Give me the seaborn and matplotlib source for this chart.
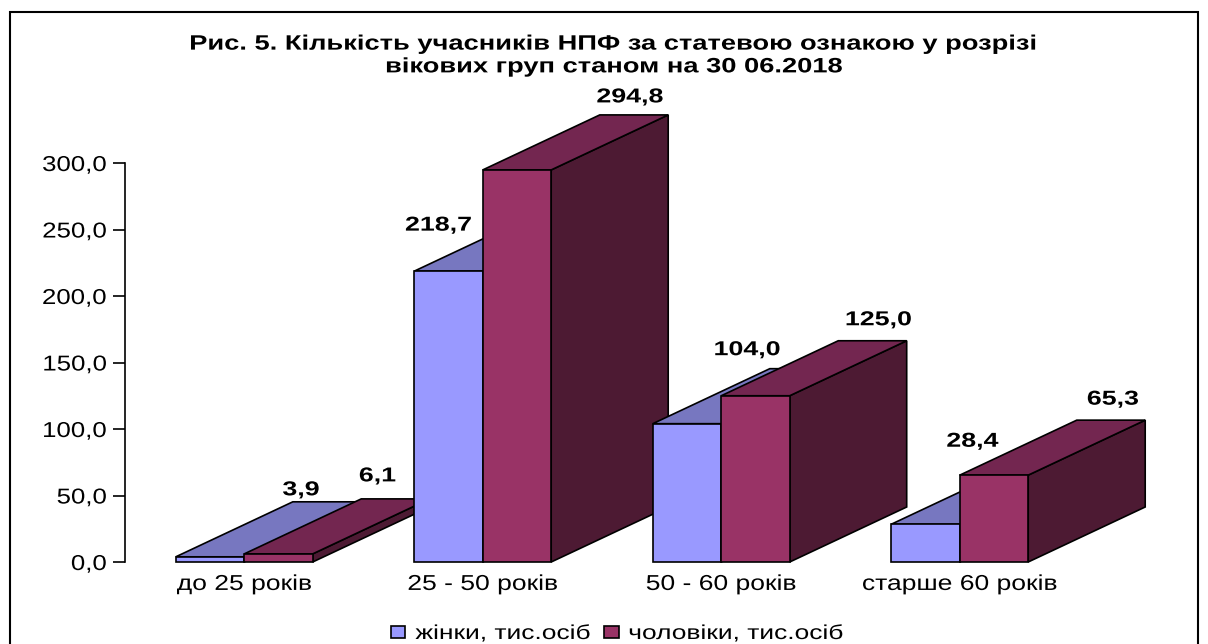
import pandas as pd
import matplotlib
matplotlib.use('Agg')
import matplotlib.pyplot as plt
import matplotlib.patheffects as pe
from matplotlib.patches import Polygon, Rectangle
from matplotlib.transforms import Affine2D
import seaborn as sns

# values
groups = ['до 25 років', '25 - 50 років', '50 - 60 років', 'старше 60 років']
women = [3.9, 218.7, 104.0, 28.4]
men = [6.1, 294.8, 125.0, 65.3]
series = ['жінки, тис.осіб', 'чоловіки, тис.осіб']
yticks = [0, 50, 100, 150, 200, 250, 300]

# hand placed data labels in the original, offset from bar top centre (px)
women_off = [(91, 67), (-10, 46), (60, 74), (47, 83)]
men_off = [(99, 78), (113, 73), (123, 76), (119, 76)]

W, H = 1208, 644
front = ['#9999FF', '#993366']
top = ['#7777C0', '#732650']
side = ['#4D4D80', '#4D1A33']


# the original text is stretched sideways, matplotlib has no font-stretch for that
class Stretch(pe.AbstractPathEffect):
    def __init__(self, sx, anchor='center'):
        super().__init__()
        self.sx = sx
        self.anchor = anchor

    def draw_path(self, renderer, gc, tpath, affine, rgbFace=None):
        ext = tpath.get_extents()
        ax_ = {'left': ext.x0, 'right': ext.x1, 'center': (ext.x0 + ext.x1) / 2}[self.anchor]
        t = Affine2D().translate(-ax_, 0).scale(self.sx, 1).translate(ax_, 0)
        renderer.draw_path(gc, tpath, t + affine, rgbFace)


df = pd.DataFrame({
    'group': groups * 2,
    'sex': [series[0]] * 4 + [series[1]] * 4,
    'value': women + men,
})

sns.set_theme(style='white')
plt.rcParams['font.family'] = ['Liberation Sans', 'DejaVu Sans']

fig = plt.figure(figsize=(W / 100, H / 100), dpi=100)
ax = fig.add_axes([125 / W, 1 - 562 / H, 954 / W, 399 / H])
sns.barplot(data=df, x='group', y='value', hue='sex', order=groups, hue_order=series,
            palette=front, width=0.574, gap=0, edgecolor='black', linewidth=1.2,
            saturation=1, errorbar=None, ax=ax, legend=False)
ax.set_xlim(-0.5, 3.5)
ax.set_ylim(0, 300)
ax.set_xlabel('')
ax.set_ylabel('')
ax.set_yticks(yticks)
ax.yaxis.set_major_formatter(plt.FuncFormatter(lambda v, p: ('%.1f' % v).replace('.', ',')))
ax.tick_params(axis='y', left=True, length=8.6, width=1.2, color='black', pad=4.5,
               labelsize=15.5, labelcolor='black')
ax.tick_params(axis='x', bottom=False, pad=2.5, labelsize=15.5, labelcolor='black')
for s in ['top', 'right', 'bottom']:
    ax.spines[s].set_visible(False)
ax.spines['left'].set_color('black')
ax.spines['left'].set_linewidth(1.2)
for lab in ax.get_yticklabels():
    lab.set_path_effects([Stretch(1.2, 'right')])
for lab in ax.get_xticklabels():
    lab.set_path_effects([Stretch(1.23)])

# depth of the fake 3d: 117 px to the right, 55 px up
dx = 117 / (954 / 4)
dy = 55 / (399 / 300)
px_x = 4 / 954
px_y = 300 / 399

vals = [women, men]
offs = [women_off, men_off]
bars = list(ax.patches)
for h in range(2):
    for g in range(4):
        b = bars[h * 4 + g]
        x0, x1 = b.get_x(), b.get_x() + b.get_width()
        y = b.get_height()
        z = 10 * g + 3 * h
        b.set_zorder(z + 2)
        b.set_clip_on(False)
        tp = Polygon([(x0, y), (x1, y), (x1 + dx, y + dy), (x0 + dx, y + dy)], closed=True,
                     facecolor=top[h], edgecolor='black', linewidth=1.2, zorder=z + 1, clip_on=False)
        sd = Polygon([(x1, 0), (x1 + dx, dy), (x1 + dx, y + dy), (x1, y)], closed=True,
                     facecolor=side[h], edgecolor='black', linewidth=1.2, zorder=z + 1, clip_on=False)
        ax.add_patch(sd)
        ax.add_patch(tp)
        ox, oy = offs[h][g]
        ax.text((x0 + x1) / 2 + ox * px_x, y + oy * px_y, ('%.1f' % vals[h][g]).replace('.', ','),
                ha='center', va='center', fontsize=14.5, fontweight='bold', color='black', zorder=100,
                path_effects=[Stretch(1.33)])

fig.text(615 / W, 1 - 55.5 / H, 'Рис. 5. Кількість учасників НПФ за статевою ознакою у розрізі\nвікових груп станом на 30 06.2018',
         ha='center', va='center', fontsize=15, fontweight='bold', color='black', linespacing=1.25,
         path_effects=[Stretch(1.31)])

# outer frame, its bottom edge is cut off in the original
fig.add_artist(Rectangle((10 / W, -0.05), 1188 / W, 1.05 - 12 / H, transform=fig.transFigure,
                         fill=False, edgecolor='black', linewidth=1.5))

handles = [Rectangle((0, 0), 1, 1, facecolor=c, edgecolor='black', linewidth=1.2) for c in front]
leg = fig.legend(handles, series, loc='center', bbox_to_anchor=(592 / W, 1 - 633.5 / H), ncol=2, frameon=False,
                 fontsize=14.5, handlelength=0.7, handleheight=0.55, handletextpad=0.5, columnspacing=2.75,
                 labelcolor='black', borderpad=0)
for t in leg.get_texts():
    t.set_path_effects([Stretch(1.31, 'left')])

fig.savefig('out.png', dpi=100, facecolor='white')
